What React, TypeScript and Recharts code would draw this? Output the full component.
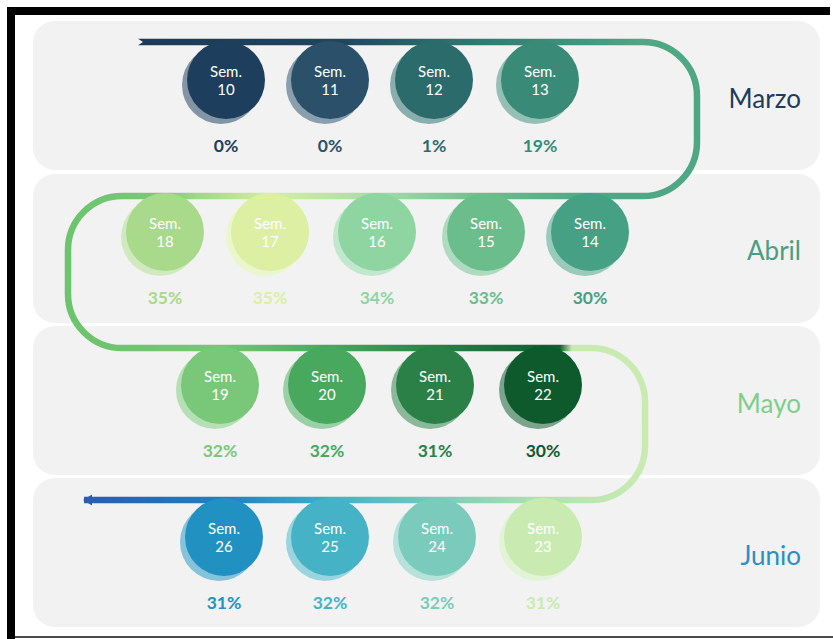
import { ComposedChart, Line, Scatter, XAxis, YAxis } from "recharts";

// --- data ---
const months = ["Marzo", "Abril", "Mayo", "Junio"];
const weeksByMonth = [
  [10, 11, 12, 13],
  [14, 15, 16, 17, 18],
  [19, 20, 21, 22],
  [23, 24, 25, 26],
];
// avance por semana, semanas 10..26
const weekPercents = [0, 0, 1, 19, 30, 33, 34, 35, 35, 32, 32, 31, 30, 31, 32, 32, 31];

// --- layout (axis units = px of the 833x639 canvas) ---
const rowCenterY = [80, 232, 385, 537];
const rowSlotsX = [
  [226, 330, 434, 540],
  [590, 486, 377, 270, 165],
  [220, 327, 435, 543],
  [543, 437, 330, 224],
];
const monthLabelX = 801;
const trackRowY = [42, 196, 348, 500];
const trackTurnX = [697, 68, 645];
const trackStartX = 138;
const trackEndX = 84;

// --- styles ---
const FONT = "Lato, 'Open Sans', sans-serif";
const weekColors = [
  "#1d3e5c", "#2a5169", "#2b6b6b", "#3a8a78",
  "#46a084", "#6cbd8c", "#8fd5a2", "#dcefa2", "#a9d98a",
  "#79c778", "#48a95e", "#2a8046", "#0e5a2d",
  "#c9ebb2", "#7acbbb", "#45b2c5", "#2191c1",
];
const monthColors = ["#1f3b5a", "#4a9e84", "#7fcf8b", "#2b8ec4"];
const segmentStops: [number, string][][] = [
  [[138, "#1b3a58"], [340, "#1f4560"], [434, "#2b6b6b"], [540, "#3a8a78"], [643, "#4ea785"], [697, "#4ea785"]],
  [[68, "#6cc46c"], [150, "#78c878"], [270, "#d8eea0"], [377, "#a6dcaa"], [486, "#6cbd8c"], [590, "#4ea785"], [697, "#4ea785"]],
  [[68, "#6cc46c"], [220, "#76c676"], [327, "#48a95e"], [435, "#2a8046"], [545, "#145f32"], [560, "#145f32"], [572, "#c9ebb2"], [645, "#c9ebb2"]],
  [[84, "#2a5cb0"], [224, "#2080c0"], [330, "#40b0c8"], [437, "#78cbbb"], [540, "#b0e2b0"], [645, "#c9ebb2"]],
];

const panelTops = [21, 174, 326, 478];

function lighten(hex: string, amount: number) {
  const n = parseInt(hex.slice(1), 16);
  const mix = (c: number) => Math.round(c + (255 - c) * amount);
  const r = mix((n >> 16) & 255);
  const g = mix((n >> 8) & 255);
  const b = mix(n & 255);
  return `rgb(${r},${g},${b})`;
}

// d3-style curve: straight lines with rounded corners at inner points
function roundedCorners(radius: number) {
  return (context: any) => {
    let pts: [number, number][] = [];
    return {
      areaStart() {},
      areaEnd() {},
      lineStart() {
        pts = [];
      },
      point(x: number, y: number) {
        pts.push([x, y]);
      },
      lineEnd() {
        if (!pts.length) return;
        context.moveTo(pts[0][0], pts[0][1]);
        for (let i = 1; i < pts.length - 1; i++) {
          context.arcTo(pts[i][0], pts[i][1], pts[i + 1][0], pts[i + 1][1], radius);
        }
        const last = pts[pts.length - 1];
        context.lineTo(last[0], last[1]);
      },
    };
  };
}

const weekRows = weeksByMonth.map((weeks, row) =>
  weeks.map((week, i) => ({
    x: rowSlotsX[row][i],
    y: rowCenterY[row],
    week,
    percent: weekPercents[week - 10],
    color: weekColors[week - 10],
  }))
);
const weekData = weekRows.flat();

const monthData = months.map((name, i) => ({ x: monthLabelX, y: rowCenterY[i] + 18, name, color: monthColors[i] }));

const midY = (a: number, b: number) => (a + b) / 2;
const trackSegments = [
  [
    { x: trackStartX, y: trackRowY[0] },
    { x: trackTurnX[0], y: trackRowY[0] },
    { x: trackTurnX[0], y: midY(trackRowY[0], trackRowY[1]) },
  ],
  [
    { x: trackTurnX[0], y: midY(trackRowY[0], trackRowY[1]) },
    { x: trackTurnX[0], y: trackRowY[1] },
    { x: trackTurnX[1], y: trackRowY[1] },
    { x: trackTurnX[1], y: midY(trackRowY[1], trackRowY[2]) },
  ],
  [
    { x: trackTurnX[1], y: midY(trackRowY[1], trackRowY[2]) },
    { x: trackTurnX[1], y: trackRowY[2] },
    { x: trackTurnX[2], y: trackRowY[2] },
    { x: trackTurnX[2], y: midY(trackRowY[2], trackRowY[3]) },
  ],
  [
    { x: trackTurnX[2], y: midY(trackRowY[2], trackRowY[3]) },
    { x: trackTurnX[2], y: trackRowY[3] },
    { x: trackEndX, y: trackRowY[3] },
  ],
];

const trackEnds = [
  { x: trackStartX, y: trackRowY[0], kind: "start" },
  { x: trackEndX, y: trackRowY[3], kind: "end" },
];

function WeekBubble(props: any) {
  const { cx, cy, payload } = props;
  if (cx == null || cy == null) return null;
  const r = 39;
  return (
    <g>
      <circle cx={cx - 5} cy={cy + 5} r={r} fill={lighten(payload.color, 0.45)} />
      <circle cx={cx} cy={cy} r={r} fill={payload.color} />
      <text x={cx} y={cy - 9} textAnchor="middle" dominantBaseline="central" fill="#ffffff" fontSize={15} fontFamily={FONT}>
        Sem.
      </text>
      <text x={cx} y={cy + 9} textAnchor="middle" dominantBaseline="central" fill="#ffffff" fontSize={15} fontFamily={FONT}>
        {payload.week}
      </text>
      <text x={cx} y={cy + 65} textAnchor="middle" dominantBaseline="central" fill={payload.color} fontSize={17.5} fontWeight={700} fontFamily={FONT}>
        {`${payload.percent}%`}
      </text>
    </g>
  );
}

function MonthLabel(props: any) {
  const { cx, cy, payload } = props;
  if (cx == null || cy == null) return null;
  // cy is the visual centre of the capitals; baseline sits half a cap height below
  return (
    <text x={cx} y={cy + 9.5} textAnchor="end" fill={payload.color} fontSize={26} fontFamily={FONT}>
      {payload.name}
    </text>
  );
}

function TrackEnd(props: any) {
  const { cx, cy, payload } = props;
  if (cx == null || cy == null) return null;
  if (payload.kind === "start") {
    return <polygon points={`${cx - 1},${cy - 4} ${cx + 5},${cy} ${cx - 1},${cy + 4}`} fill="#f2f2f2" />;
  }
  return <polygon points={`${cx - 1},${cy} ${cx + 8},${cy - 5.5} ${cx + 8},${cy + 5.5}`} fill="#2a5cb0" />;
}

export default function App() {
  return (
    <div style={{ position: "absolute", left: 0, top: 0, width: 833, height: 639, background: "#ffffff", overflow: "hidden" }}>
      {/* frame */}
      <div style={{ position: "absolute", left: 7, top: 7, width: 823, height: 8, background: "#000" }} />
      <div style={{ position: "absolute", left: 7, top: 7, width: 8, height: 632, background: "#000" }} />
      <div style={{ position: "absolute", left: 15, top: 636, width: 818, height: 2, background: "#4a4a4a" }} />
      {/* row panels */}
      {panelTops.map((top) => (
        <div
          key={top}
          style={{ position: "absolute", left: 33, top, width: 787, height: 149, borderRadius: 22, background: "#f2f2f2" }}
        />
      ))}
      <div style={{ position: "absolute", left: 0, top: 0 }}>
        <ComposedChart width={833} height={639} margin={{ top: 0, right: 0, bottom: 0, left: 0 }}>
          <defs>
            {segmentStops.map((stops, i) => {
              const xs = trackSegments[i].map((p) => p.x);
              const min = Math.min(...xs);
              const max = Math.max(...xs);
              return (
                <linearGradient key={i} id={`track-${i}`} x1="0" y1="0" x2="1" y2="0">
                  {stops.map(([x, c], j) => (
                    <stop key={j} offset={Math.max(0, Math.min(1, (x - min) / (max - min)))} stopColor={c} />
                  ))}
                </linearGradient>
              );
            })}
          </defs>
          <XAxis type="number" dataKey="x" domain={[0, 833]} allowDataOverflow hide />
          <YAxis type="number" dataKey="y" domain={[0, 639]} allowDataOverflow reversed hide />
          {trackSegments.map((seg, i) => (
            <Line
              key={i}
              data={seg}
              dataKey="y"
              type={roundedCorners(54) as any}
              stroke={`url(#track-${i})`}
              strokeWidth={6.5}
              dot={false}
              activeDot={false}
              isAnimationActive={false}
            />
          ))}
          <Scatter data={trackEnds} dataKey="y" shape={(p: any) => <TrackEnd {...p} />} isAnimationActive={false} />
          <Scatter data={weekData} dataKey="y" shape={(p: any) => <WeekBubble {...p} />} isAnimationActive={false} />
          <Scatter data={monthData} dataKey="y" shape={(p: any) => <MonthLabel {...p} />} isAnimationActive={false} />
        </ComposedChart>
      </div>
    </div>
  );
}
